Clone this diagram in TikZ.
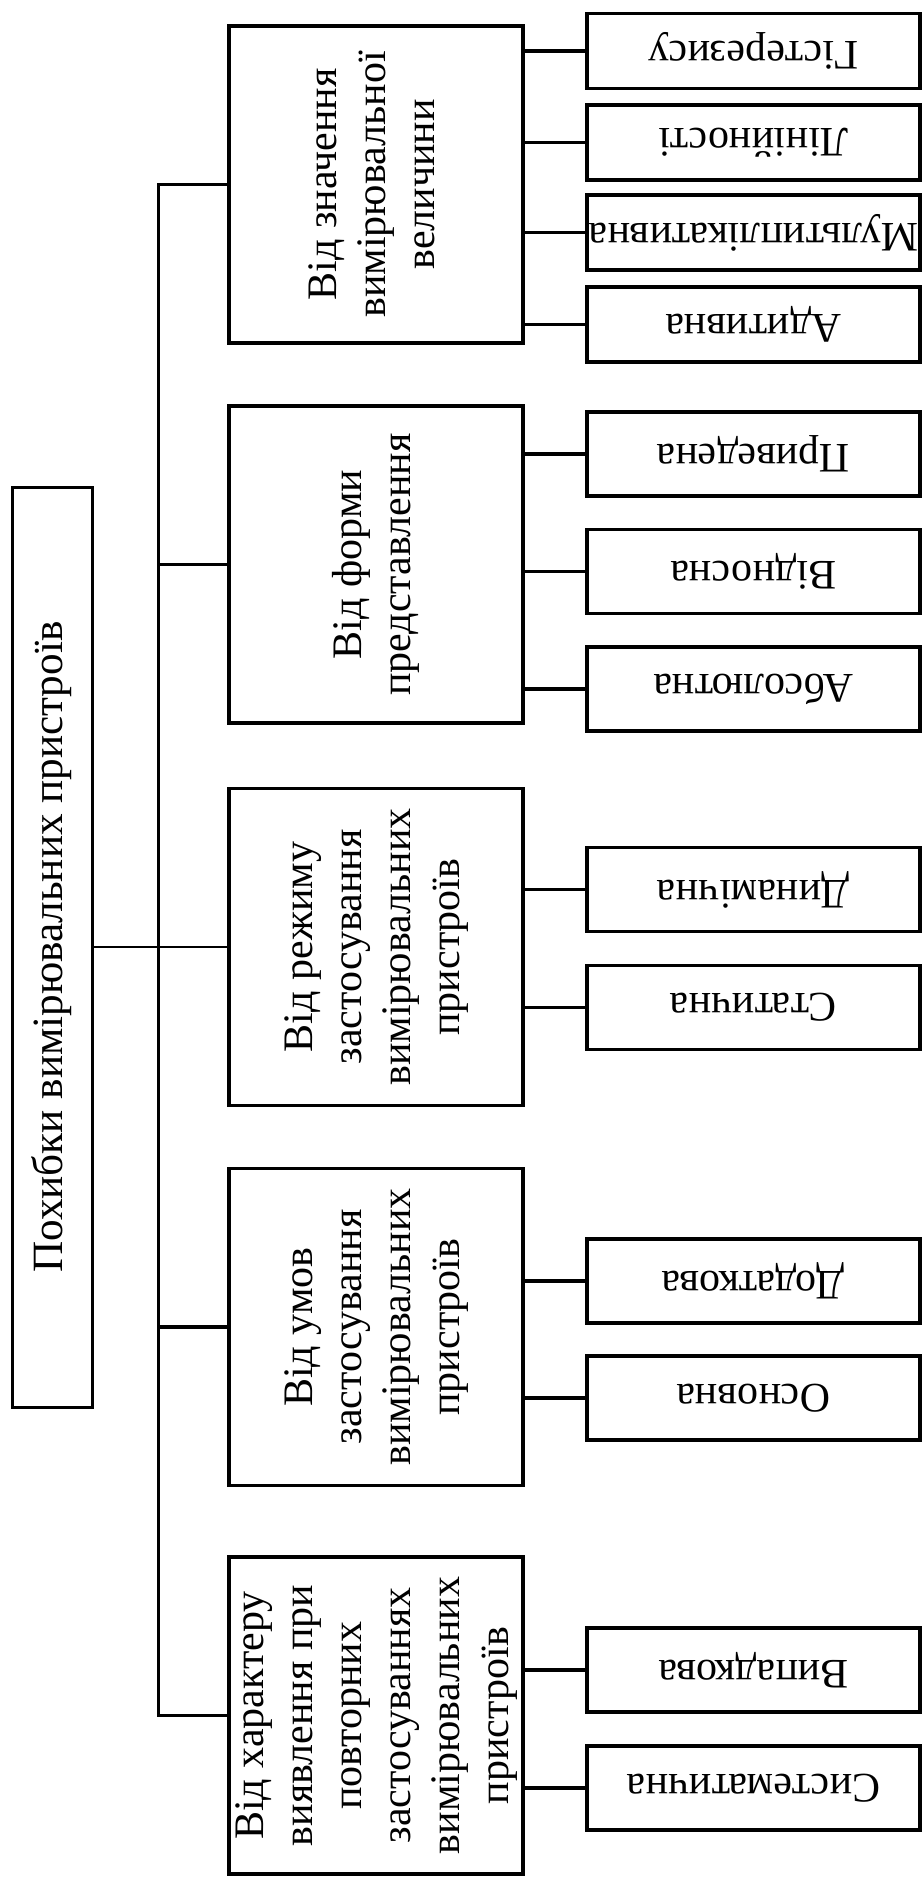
\documentclass[tikz,border=0pt]{standalone}
\usepackage{fontspec}
\setmainfont{Liberation Serif}
\usepackage{graphicx}
\newcommand\cattext[1]{\rotatebox{90}{\begin{tabular}{@{}c@{}}#1\end{tabular}}}
\newcommand\fliptext[1]{\rotatebox{180}{#1}}
\begin{document}
\begin{tikzpicture}[x=0.5pt,y=-0.5pt,
  box/.style={draw, line width=1.75pt, inner sep=0pt, font=\fontsize{21}{24.5}\selectfont},
  cat/.style={box, minimum width=147pt, minimum height=158.5pt},
  leaf/.style={box, minimum width=166.5pt, minimum height=42pt},
  leafs/.style={box, minimum width=166.5pt, minimum height=37.5pt},
  conn/.style={line width=1.75pt},
  rootconn/.style={line width=0.8pt}]
\useasboundingbox (0,0) rectangle (924,1877);

% root
\node[box, line width=1.5pt, minimum width=40pt, minimum height=460pt,
      font=\fontsize{21.6}{25}\selectfont] (root) at (52,947)
  {\rotatebox{90}{\raisebox{4pt}{Похибки вимірювальних пристроїв}}};

% categories
\node[cat] (c1) at (376,184.5) {\cattext{Від значення\\вимірювальної\\величини}};
\node[cat] (c2) at (376,564.5) {\cattext{Від форми\\представлення}};
\node[cat] (c3) at (376,947) {\cattext{Від режиму\\застосування\\вимірювальних\\пристроїв}};
\node[cat] (c4) at (376,1327) {\cattext{Від умов\\застосування\\вимірювальних\\пристроїв}};
\node[cat] (c5) at (376,1715.5) {\cattext{Від характеру\\виявлення при\\повторних\\застосуваннях\\вимірювальних\\пристроїв}};

% leaves
\node[leafs] (l1) at (753.5,51) {\fliptext{Гістерезису}};
\node[leafs] (l2) at (753.5,142.5) {\fliptext{Лінійності}};
\node[leafs] (l3) at (753.5,232.5) {\fliptext{Мультиплікативна}};
\node[leafs] (l4) at (753.5,324.5) {\fliptext{Адитивна}};
\node[leaf] (l5) at (753.5,454) {\fliptext{Приведена}};
\node[leaf] (l6) at (753.5,571.5) {\fliptext{Відносна}};
\node[leaf] (l7) at (753.5,689) {\fliptext{Абсолютна}};
\node[leaf] (l8) at (753.5,889.5) {\fliptext{Динамічна}};
\node[leaf] (l9) at (753.5,1007.5) {\fliptext{Статична}};
\node[leaf] (l10) at (753.5,1281) {\fliptext{Додаткова}};
\node[leaf] (l11) at (753.5,1398) {\fliptext{Основна}};
\node[leaf] (l12) at (753.5,1670) {\fliptext{Випадкова}};
\node[leaf] (l13) at (753.5,1788) {\fliptext{Систематична}};

% trunk
\draw[conn] (c1.west) -- ++(-69,0) |- (c5.west);
\draw[conn] (c2.west) -- ++(-69,0);
\draw[conn] (c4.west) -- ++(-69,0);
\draw[rootconn] (root.east) -- (c3.west);

% leaf connectors
\foreach \c/\l in {c1/l1,c1/l2,c1/l3,c1/l4,c2/l5,c2/l6,c2/l7,c3/l8,c3/l9,c4/l10,c4/l11,c5/l12,c5/l13}
  \draw[conn] (\c.east |- \l.west) -- (\l.west);
\end{tikzpicture}
\end{document}
